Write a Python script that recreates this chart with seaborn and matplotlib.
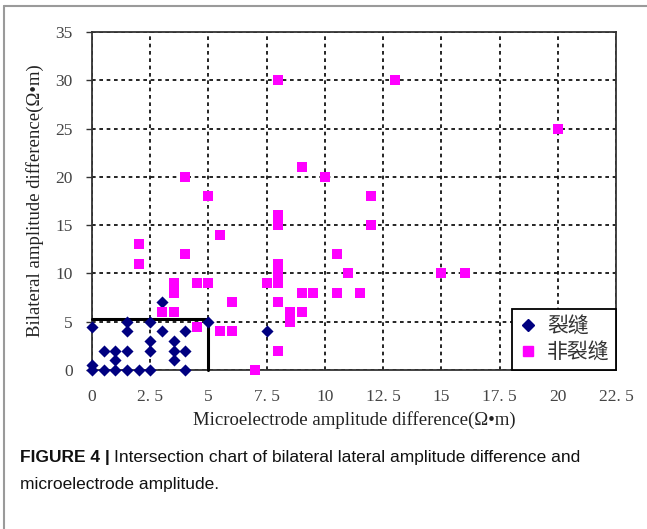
import matplotlib
matplotlib.use("Agg")
import matplotlib.pyplot as plt
import seaborn as sns
import pandas as pd
from matplotlib.lines import Line2D

# ---- data ----
crack_x = [0, 1.5, 2.5, 5, 3, 1.5, 3, 4, 7.5, 2.5, 3.5, 0.5, 1, 1.5, 2.5, 3.5, 4,
           1, 3.5, 0, 0, 0.5, 1, 1.5, 2, 2.5, 4]
crack_y = [4.5, 5, 5, 5, 7, 4, 4, 4, 4, 3, 3, 2, 2, 2, 2, 2, 2,
           1, 1, 0.5, 0, 0, 0, 0, 0, 0, 0]

noncrack_x = [8, 13, 20, 9, 10, 4, 5, 12, 8, 8, 12, 5.5, 2, 4, 10.5, 2, 8, 8, 11, 15, 16,
              7.5, 8, 3.5, 4.5, 5, 3.5, 9, 9.5, 10.5, 11.5, 8, 6, 3, 3.5, 8.5, 9, 8.5,
              4.5, 5.5, 6, 8, 7]
noncrack_y = [30, 30, 25, 21, 20, 20, 18, 18, 16, 15, 15, 14, 13, 12, 12, 11, 11, 10, 10, 10, 10,
              9, 9, 9, 9, 9, 8, 8, 8, 8, 8, 7, 7, 6, 6, 6, 6, 5,
              4.5, 4, 4, 2, 0]

series_names = ["裂缝", "非裂缝"]
x_ticks = [0, 2.5, 5, 7.5, 10, 12.5, 15, 17.5, 20, 22.5]
x_ticklabels = ["0", "2. 5", "5", "7. 5", "10", "12. 5", "15", "17. 5", "20", "22. 5"]
y_ticks = [0, 5, 10, 15, 20, 25, 30, 35]
box_bounds = [0, 5, 0, 5.3]  # x0, x1, y0, y1 of highlighted crack zone

df = pd.concat([
    pd.DataFrame({"x": crack_x, "y": crack_y, "type": series_names[0]}),
    pd.DataFrame({"x": noncrack_x, "y": noncrack_y, "type": series_names[1]}),
], ignore_index=True)

sns.set_style("white")
plt.rcParams["font.family"] = ["Liberation Serif", "Noto Sans CJK SC", "DejaVu Sans"]

fig = plt.figure(figsize=(6.47, 5.29), dpi=100)
ax = fig.add_axes([92 / 647, 1 - 370 / 529, (616 - 92) / 647, (370 - 32) / 529])

ax.set_xlim(0, 22.5)
ax.set_ylim(0, 35)

# grid
ax.set_xticks(x_ticks)
ax.set_yticks(y_ticks)
ax.grid(True, color="black", linestyle=(0, (2.2, 2.2)), linewidth=1.2)
ax.set_axisbelow(True)

# highlighted crack zone
x0, x1, y0, y1 = box_bounds
ax.plot([x0, x1], [y1, y1], color="black", lw=2.2, zorder=3, clip_on=False)
ax.plot([x1, x1], [y0, y1], color="black", lw=2.2, zorder=3, clip_on=False)

sub_c = df[df["type"] == series_names[0]]
sub_n = df[df["type"] == series_names[1]]
sns.scatterplot(data=sub_c, x="x", y="y", marker="D", color="#000080", s=38,
                linewidth=0, ax=ax, zorder=4, clip_on=False, legend=False)
sns.scatterplot(data=sub_n, x="x", y="y", marker="s", color="#FF00FF", s=62,
                linewidth=0, ax=ax, zorder=4, clip_on=False, legend=False)

for sp in ax.spines.values():
    sp.set_color("#333333")
    sp.set_linewidth(1.3)
    sp.set_visible(True)

ax.set_xticklabels(x_ticklabels)
ax.tick_params(axis="x", length=0, pad=14, labelsize=12.5, labelcolor="#444444")
ax.tick_params(axis="y", length=4, width=1, direction="out", pad=10, labelsize=12.5,
               labelcolor="#444444", left=True, color="#333333")

ax.set_xlabel("Microelectrode amplitude difference(Ω•m)", fontsize=13.5,
              color="#222222", labelpad=4)
ax.set_ylabel("Bilateral amplitude difference(Ω•m)", fontsize=13.5,
              color="#222222", labelpad=8)

handles = [
    Line2D([], [], marker="D", color="#000080", linestyle="none", markersize=6),
    Line2D([], [], marker="s", color="#FF00FF", linestyle="none", markersize=7.5),
]
leg = ax.legend(handles, series_names, loc="lower right", borderaxespad=0,
                frameon=True, fancybox=False, framealpha=1, edgecolor="black",
                prop={"family": ["Noto Sans CJK SC"], "size": 15},
                handletextpad=0.4, handlelength=1.0, borderpad=0.3, labelspacing=0.2)
leg.get_frame().set_linewidth(1.3)
for t in leg.get_texts():
    t.set_color("#333333")

# panel border
fig.add_artist(Line2D([4 / 647, 4 / 647], [0, 1 - 6 / 529], transform=fig.transFigure,
                      color="#9a9a9a", lw=1.5))
fig.add_artist(Line2D([4 / 647, 1], [1 - 6 / 529, 1 - 6 / 529], transform=fig.transFigure,
                      color="#9a9a9a", lw=1.5))

# caption
cap_font = ["Liberation Sans", "DejaVu Sans"]
t1 = fig.text(20 / 647, 1 - 462 / 529, "FIGURE 4 |", fontsize=12.5, fontweight="bold",
              family=cap_font, color="#111111", va="baseline")
fig.canvas.draw()
bb = t1.get_window_extent(renderer=fig.canvas.get_renderer())
fig.text((bb.x1 + 4) / (6.47 * 100), 1 - 462 / 529,
         "Intersection chart of bilateral lateral amplitude difference and",
         fontsize=12.5, family=cap_font, color="#111111", va="baseline")
fig.text(20 / 647, 1 - 489 / 529, "microelectrode amplitude.", fontsize=12.5,
         family=cap_font, color="#111111", va="baseline")

fig.savefig("out.png", dpi=100)
